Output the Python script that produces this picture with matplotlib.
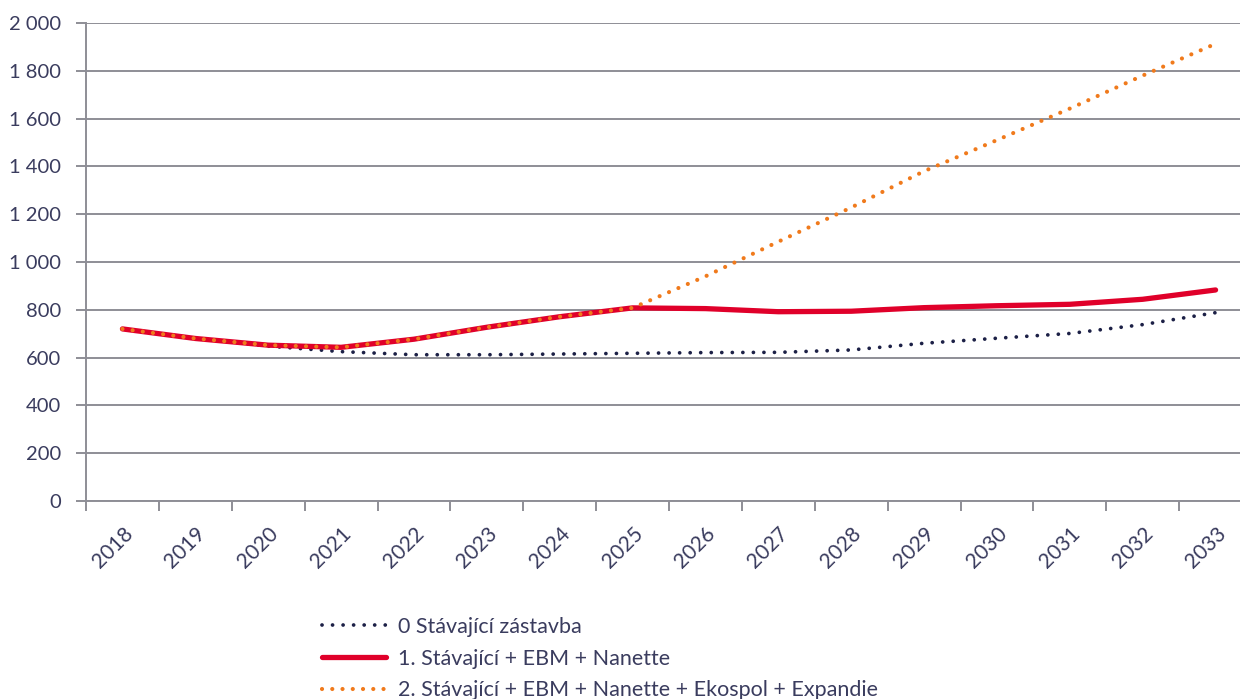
import matplotlib
matplotlib.use("Agg")
import matplotlib.pyplot as plt
from matplotlib.ticker import FuncFormatter, MultipleLocator, FixedLocator

years = ["2018", "2019", "2020", "2021", "2022", "2023", "2024", "2025",
         "2026", "2027", "2028", "2029", "2030", "2031", "2032", "2033"]
s0 = [720, 680, 648, 625, 612, 612, 615, 618, 621, 622, 632, 660, 681, 701, 738, 788]
s1 = [720, 680, 652, 643, 677, 727, 771, 808, 805, 792, 794, 809, 817, 823, 844, 883]
s2 = [720, 680, 652, 643, 677, 727, 771, 808, 940, 1085, 1228, 1380, 1510, 1642, 1780, 1913]
labels = ["0 Stávající zástavba",
          "1. Stávající + EBM + Nanette",
          "2. Stávající + EBM + Nanette + Ekospol + Expandie"]

TXT = "#3a3c5e"
GRID = "#8e8e96"
plt.rcParams['font.family'] = ['Lato', 'DejaVu Sans']

fig = plt.figure(figsize=(12.4, 6.99), dpi=100)
ax = fig.add_axes([86/1240, 1-501/699, 1166/1240, 478/699])
x = list(range(len(years)))

l0, = ax.plot(x, s0, color="#1c2046", lw=2.7, linestyle=(0, (0.01, 2.8)),
              dash_capstyle='round', zorder=3, label=labels[0])
l1, = ax.plot(x, s1, color="#e0002a", lw=3.8, solid_capstyle='round',
              solid_joinstyle='round', zorder=4, label=labels[1])
l2, = ax.plot(x, s2, color="#f07a1c", lw=3.0, linestyle=(0, (0.01, 2.45)),
              dash_capstyle='round', zorder=5, label=labels[2])

ax.set_xlim(-0.5, len(years) - 0.5)
ax.set_ylim(0, 2000)
ax.yaxis.set_major_locator(MultipleLocator(200))
ax.yaxis.set_major_formatter(FuncFormatter(lambda v, p: f"{int(v):,}".replace(",", " ")))
ax.grid(axis='y', color=GRID, lw=1.4, zorder=1)
ax.set_axisbelow(True)

ax.xaxis.set_major_locator(FixedLocator([i - 0.5 for i in range(len(years) + 1)]))
ax.xaxis.set_major_formatter(FuncFormatter(lambda v, p: ""))
ax.set_xticks(x, minor=True)
ax.set_xticklabels(years, minor=True, rotation=45, ha='right', va='top',
                   rotation_mode='anchor', fontsize=15, color=TXT)
ax.tick_params(axis='x', which='minor', length=0, pad=16)
ax.tick_params(axis='x', which='major', length=7, width=1.4, color=GRID, direction='out')
ax.tick_params(axis='y', length=7, width=1.4, color=GRID, labelsize=14.5,
               labelcolor=TXT, pad=11)

for s in ['top', 'right']:
    ax.spines[s].set_visible(False)
for s in ['left', 'bottom']:
    ax.spines[s].set_color(GRID)
    ax.spines[s].set_linewidth(1.4)

leg = fig.legend(handles=[l0, l1, l2], loc='upper left',
                 bbox_to_anchor=(311/1240, 1-606/699), frameon=False,
                 fontsize=15.5, labelcolor=TXT, handlelength=3.0,
                 handletextpad=0.56, labelspacing=0.55, borderpad=0)

fig.savefig("out.png", dpi=100)
